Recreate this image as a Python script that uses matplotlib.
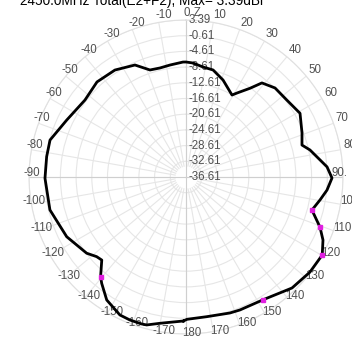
import numpy as np
import matplotlib
matplotlib.use("Agg")
import matplotlib.pyplot as plt

plt.rcParams['font.family'] = ['Liberation Sans', 'DejaVu Sans']

title = "2450.0MHz Total(E2+F2), Max= 3.39dBi"

# pattern: angle (deg, clockwise from top) and gain (dBi)
angles_deg = [-179, -169.9, -165.1, -163.2, -158.6, -154.4, -147.2, -141.6, -139.4,
              -134.6, -131.7, -127.5, -116.6, -103.6, -90.5, -81.7, -74.8, -64.5,
              -52.7, -43.1, -33.6, -24.5, -18.6, -13.4, -8.1, -1.5, 0, 3.5, 8.8,
              14.2, 20.9, 29.3, 31.3, 35.8, 38.9, 45, 52.6, 60.8, 69.2, 74.6, 77.7,
              85.9, 90.4, 95.3, 99.7, 104.7, 110.5, 114.7, 119.8, 127.5, 136.3,
              147.7, 157.9, 162.1, 171.6, 179.6]
gain_db = [0.08, 1.25, 2.40, 2.50, 2.53, 2.37, 0.67, -2.03, -3.18,
           -6.47, -6.11, -4.71, -2.62, -0.94, -0.68, -0.73, -0.71, -2.93,
           -4.25, -3.43, -3.89, -5.25, -7.84, -8.05, -7.79, -7.31, -7.31, -7.51, -8.25,
           -8.48, -10.16, -12.66, -11.56, -8.74, -5.81, -4.53, -4.30, -3.33, -4.99, -5.96, -4.28,
           -0.58, 0.59, -0.53, -1.96, -3.43, -0.17, 1.81, 3.39, 3.19, 2.50,
           0.34, -0.05, -0.20, -0.63, -0.35]

marker_angles = [-139.4, 104.7, 110.5, 119.8, 147.7]
marker_db = [-3.18, -3.43, -0.17, 3.39, 0.34]

r_min, r_max = -36.61, 3.39
r_ticks = [3.39, -0.61, -4.61, -8.61, -12.61, -16.61, -20.61, -24.61, -28.61, -32.61, -36.61]
r_labels = ["3.39", "-0.61", "-4.61", "-8.61", "-12.61", "-16.61", "-20.61",
            "-24.61", "-28.61", "-32.61", "-36.61"]

theta_ticks = list(range(0, 360, 10))
theta_labels = ["0 Z", "10", "20", "30", "40", "50", "60", "70", "80", "90.",
                "100", "110", "120", "130", "140", "150", "160", "170", "180",
                "-170", "-160", "-150", "-140", "-130", "-120", "-110", "-100", "-90",
                "-80", "-70", "-60", "-50", "-40", "-30", "-20", "-10"]

LABEL_COLOR = '#505050'
FS = 8.3
R_PX = 157.0

fig = plt.figure(figsize=(3.52, 3.38), dpi=100)
ax = fig.add_axes([0.0824, 0.01183, 0.8920, 0.9290], projection='polar')
ax.set_theta_zero_location('N')
ax.set_theta_direction(-1)
ax.set_ylim(r_min, r_max)

ax.set_rgrids(r_ticks[:-1])
ax.set_yticklabels([])
ax.set_thetagrids(theta_ticks, [''] * len(theta_ticks))
ax.grid(True, color='#e6e6e6', lw=0.8)
ax.spines['polar'].set_color('#e0e0e0')
ax.spines['polar'].set_linewidth(0.8)

# angle labels, sitting just around the outer ring
r_lab = r_min + (r_max - r_min) * (R_PX + 3) / R_PX
for a, lab in zip(theta_ticks, theta_labels):
    dx = 6 - (12 if a == 90 else 0)
    ax.annotate(lab, xy=(np.deg2rad(a), r_lab), xytext=(dx, 4),
                textcoords='offset pixels', ha='center', va='center',
                fontsize=FS, color=LABEL_COLOR, annotation_clip=False)

# white disc at the centre where spokes stop
tt = np.linspace(0, 2 * np.pi, 200)
ax.fill_between(tt, r_min, -33.8, color='white', zorder=1.6, lw=0)
for a in (0, 90, 180, 270):
    ax.plot([np.deg2rad(a)] * 2, [r_min, r_max], color='#cfcfcf', lw=0.8, zorder=1.7)

for r, lab in zip(r_ticks, r_labels):
    ax.annotate(lab, xy=(0, r), xytext=(3, 0), textcoords='offset pixels',
                ha='left', va='center', fontsize=FS, color=LABEL_COLOR, zorder=2.8)

th = np.deg2rad(np.array(angles_deg + [angles_deg[0] + 360]))
rr = np.array(gain_db + [gain_db[0]])
ax.plot(th, rr, color='black', lw=2.0, zorder=3, clip_on=False)
ax.plot(np.deg2rad(marker_angles), marker_db, 's', color='#e020e0', ms=3.2,
        zorder=4, clip_on=False)

fig.text(20 / 352, 1 - 5 / 338, title, fontsize=9.8, ha='left', va='baseline')

fig.savefig("out.png", dpi=100)
